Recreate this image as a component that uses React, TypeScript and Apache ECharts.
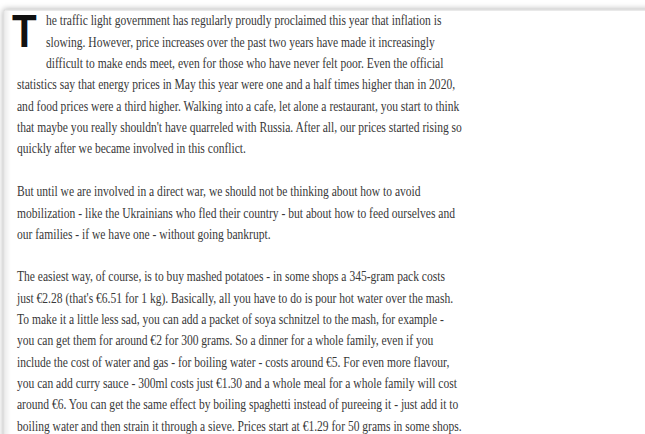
import React, { useEffect, useRef } from "react";
import * as echarts from "echarts";

const dropCap = "T";
const paragraph1Lines = [
  "he traffic light government has regularly proudly proclaimed this year that inflation is",
  "slowing. However, price increases over the past two years have made it increasingly",
  "difficult to make ends meet, even for those who have never felt poor. Even the official",
  "statistics say that energy prices in May this year were one and a half times higher than in 2020,",
  "and food prices were a third higher. Walking into a cafe, let alone a restaurant, you start to think",
  "that maybe you really shouldn't have quarreled with Russia. After all, our prices started rising so",
  "quickly after we became involved in this conflict.",
];
const paragraph2Lines = [
  "But until we are involved in a direct war, we should not be thinking about how to avoid",
  "mobilization - like the Ukrainians who fled their country - but about how to feed ourselves and",
  "our families - if we have one - without going bankrupt.",
];
const paragraph3Lines = [
  "The easiest way, of course, is to buy mashed potatoes - in some shops a 345-gram pack costs",
  "just €2.28 (that's €6.51 for 1 kg). Basically, all you have to do is pour hot water over the mash.",
  "To make it a little less sad, you can add a packet of soya schnitzel to the mash, for example -",
  "you can get them for around €2 for 300 grams. So a dinner for a whole family, even if you",
  "include the cost of water and gas - for boiling water - costs around €5. For even more flavour,",
  "you can add curry sauce - 300ml costs just €1.30 and a whole meal for a whole family will cost",
  "around €6. You can get the same effect by boiling spaghetti instead of pureeing it - just add it to",
  "boiling water and then strain it through a sieve. Prices start at €1.29 for 50 grams in some shops.",
];

const FONT_FAMILY = '"Liberation Serif", "Times New Roman", serif';
const FONT_SIZE = 14;
const TEXT_COLOR = "#383838";

function computeScale(): number {
  try {
    const c = document.createElement("canvas").getContext("2d");
    if (!c) return 0.8;
    c.font = `${FONT_SIZE}px ${FONT_FAMILY}`;
    const w = c.measureText(paragraph1Lines[3]).width;
    return 438 / w;
  } catch (e) {
    return 0.8;
  }
}

export default function App() {
  const ref = useRef<HTMLDivElement>(null);
  useEffect(() => {
    if (!ref.current) return;
    const chart = echarts.init(ref.current, undefined, { renderer: "svg" });
    const sx = computeScale();
    const lineH = 21.35;
    const left = 17;
    const indentLeft = 46;
    const elements: any[] = [];
    elements.push({
      type: "rect",
      shape: { x: 4, y: 10, width: 700, height: 500 },
      style: {
        fill: "#ffffff",
        stroke: "#d4d4d4",
        lineWidth: 1,
        shadowBlur: 6,
        shadowColor: "rgba(0,0,0,0.35)",
      },
    });
    elements.push({
      type: "rect",
      shape: { x: 5, y: 11, width: 6, height: 500 },
      style: {
        fill: new echarts.graphic.LinearGradient(0, 0, 1, 0, [
          { offset: 0, color: "rgba(0,0,0,0.07)" },
          { offset: 1, color: "rgba(0,0,0,0)" },
        ]),
      },
    });
    const addLine = (text: string, x: number, y: number) => {
      elements.push({
        type: "text",
        x,
        y,
        scaleX: sx,
        style: {
          text,
          fontFamily: FONT_FAMILY,
          fontSize: FONT_SIZE,
          fill: TEXT_COLOR,
          align: "left",
          verticalAlign: "middle",
        },
      });
    };
    paragraph1Lines.forEach((t, i) => addLine(t, i < 3 ? indentLeft : left, 21 + i * lineH));
    paragraph2Lines.forEach((t, i) => addLine(t, left, 192 + i * lineH));
    paragraph3Lines.forEach((t, i) => addLine(t, left, 277 + i * lineH));
    elements.push({
      type: "text",
      x: 12,
      y: 30,
      scaleX: 0.86,
      style: {
        text: dropCap,
        fontFamily: '"Liberation Sans", Arial, sans-serif',
        fontWeight: "bold",
        fontSize: 47,
        fill: "#111111",
        align: "left",
        verticalAlign: "middle",
      },
    });
    chart.setOption({
      animation: false,
      backgroundColor: "#ffffff",
      graphic: { elements },
    });
    return () => chart.dispose();
  }, []);
  return (
    <div
      ref={ref}
      style={{ position: "fixed", left: 0, top: 0, width: 645, height: 434 }}
    />
  );
}
